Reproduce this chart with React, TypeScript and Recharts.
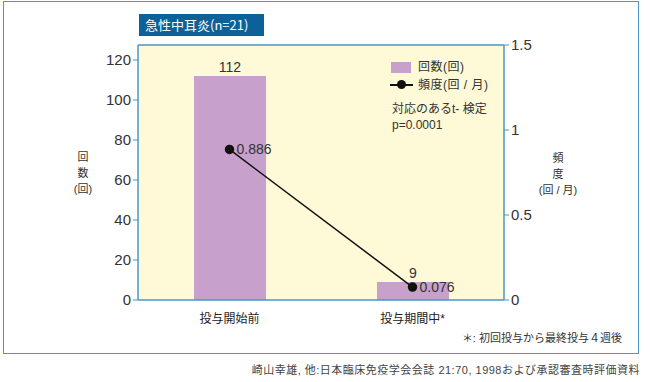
import React from "react";
import {
  ComposedChart,
  Bar,
  Line,
  XAxis,
  YAxis,
  CartesianGrid,
  LabelList,
  ReferenceLine,
} from "recharts";

const categories = ["投与開始前", "投与期間中*"];
const counts = [112, 9];
const frequencies = [0.886, 0.076];
const countTicks = [0, 20, 40, 60, 80, 100, 120];
const freqTicks = [0, 0.5, 1, 1.5];

const data = categories.map((name, i) => ({
  name,
  count: counts[i],
  freq: frequencies[i],
}));

const FONT = '"Liberation Sans", "Noto Sans CJK JP", sans-serif';
const BLUE = "#4a97c9";
const TEXT = "#333";

const App: React.FC = () => {
  return (
    <div
      style={{
        position: "absolute",
        left: 0,
        top: 0,
        width: 650,
        height: 382,
        background: "#fff",
        fontFamily: FONT,
        color: TEXT,
      }}
    >
      <div
        style={{
          position: "absolute",
          left: 3,
          top: 1,
          width: 634,
          height: 351,
          border: `1.5px solid ${BLUE}`,
        }}
      />
      <ComposedChart
        width={650}
        height={382}
        data={data}
        margin={{ top: 45, right: 86, bottom: 52, left: 78 }}
        style={{ position: "absolute", left: 0, top: 0, fontFamily: FONT }}
      >
        <CartesianGrid
          fill="#fef9d6"
          stroke="none"
          horizontal={false}
          vertical={false}
        />
        <XAxis
          dataKey="name"
          height={30}
          axisLine={{ stroke: BLUE, strokeWidth: 1.5 }}
          tickLine={false}
          tick={{ fill: "#222", fontSize: 12 }}
          tickMargin={8}
        />
        <YAxis
          yAxisId="left"
          width={60}
          domain={[0, 127.5]}
          ticks={countTicks}
          interval={0}
          axisLine={{ stroke: BLUE, strokeWidth: 1.5 }}
          tickLine={{ stroke: BLUE }}
          tickSize={5}
          tick={{ fill: TEXT, fontSize: 15 }}
        />
        <YAxis
          yAxisId="right"
          orientation="right"
          width={60}
          domain={[0, 1.5]}
          ticks={freqTicks}
          interval={0}
          axisLine={{ stroke: BLUE, strokeWidth: 1.5 }}
          tickLine={{ stroke: BLUE }}
          tickSize={5}
          tick={{ fill: TEXT, fontSize: 15 }}
        />
        <ReferenceLine
          yAxisId="right"
          y={1.5}
          stroke={BLUE}
          strokeWidth={1.5}
        />
        <Bar
          yAxisId="left"
          dataKey="count"
          fill="#c7a0cc"
          barSize={72}
          isAnimationActive={false}
        >
          <LabelList
            dataKey="count"
            position="top"
            offset={4}
            fill={TEXT}
            fontSize={14}
          />
        </Bar>
        <Line
          yAxisId="right"
          dataKey="freq"
          stroke="#111"
          strokeWidth={1.5}
          dot={{ r: 4, fill: "#111", stroke: "#111" }}
          isAnimationActive={false}
        >
          <LabelList
            dataKey="freq"
            position="right"
            offset={7}
            fill={TEXT}
            fontSize={14}
          />
        </Line>
      </ComposedChart>

      {/* title tag */}
      <div
        style={{
          position: "absolute",
          left: 139,
          top: 14,
          width: 125,
          height: 22,
          background: "#0d6199",
          color: "#fff",
          fontSize: 13,
          lineHeight: "22px",
          paddingLeft: 6,
          boxSizing: "border-box",
          fontFamily: '"Noto Sans CJK JP", sans-serif',
        }}
      >
        急性中耳炎(n=21)
      </div>

      {/* legend */}
      <div
        style={{
          position: "absolute",
          left: 391,
          top: 62,
          width: 20,
          height: 11,
          background: "#c7a0cc",
        }}
      />
      <div style={{ position: "absolute", left: 418, top: 58, fontSize: 12, lineHeight: "18px", letterSpacing: 0.5 }}>
        回数(回)
      </div>
      <div
        style={{
          position: "absolute",
          left: 390,
          top: 84,
          width: 23,
          height: 1.5,
          background: "#111",
        }}
      />
      <div
        style={{
          position: "absolute",
          left: 397,
          top: 80,
          width: 9,
          height: 9,
          borderRadius: "50%",
          background: "#111",
        }}
      />
      <div style={{ position: "absolute", left: 418, top: 76, fontSize: 12, lineHeight: "18px", letterSpacing: 0.5 }}>
        頻度(回 / 月)
      </div>
      <div style={{ position: "absolute", left: 392, top: 101, fontSize: 12, lineHeight: "16px" }}>
        対応のあるt- 検定
        <br />
        p=0.0001
      </div>

      {/* axis titles */}
      <div
        style={{
          position: "absolute",
          left: 63,
          top: 149,
          width: 40,
          textAlign: "center",
          fontSize: 11,
          lineHeight: "16px",
        }}
      >
        回<br />数<br />(回)
      </div>
      <div
        style={{
          position: "absolute",
          left: 518,
          top: 150,
          width: 80,
          textAlign: "center",
          fontSize: 11,
          lineHeight: "16px",
        }}
      >
        頻<br />度<br />(回 / 月)
      </div>

      {/* footnotes */}
      <div
        style={{
          position: "absolute",
          right: 28,
          top: 330,
          fontSize: 11,
          lineHeight: "16px",
        }}
      >
        ＊: 初回投与から最終投与４週後
      </div>
      <div
        style={{
          position: "absolute",
          right: 10,
          top: 362,
          fontSize: 11,
          lineHeight: "16px",
          letterSpacing: 0.5,
          color: "#444",
        }}
      >
        崎山幸雄, 他:日本臨床免疫学会会誌 21:70, 1998および承認審査時評価資料
      </div>
    </div>
  );
};

export default App;
